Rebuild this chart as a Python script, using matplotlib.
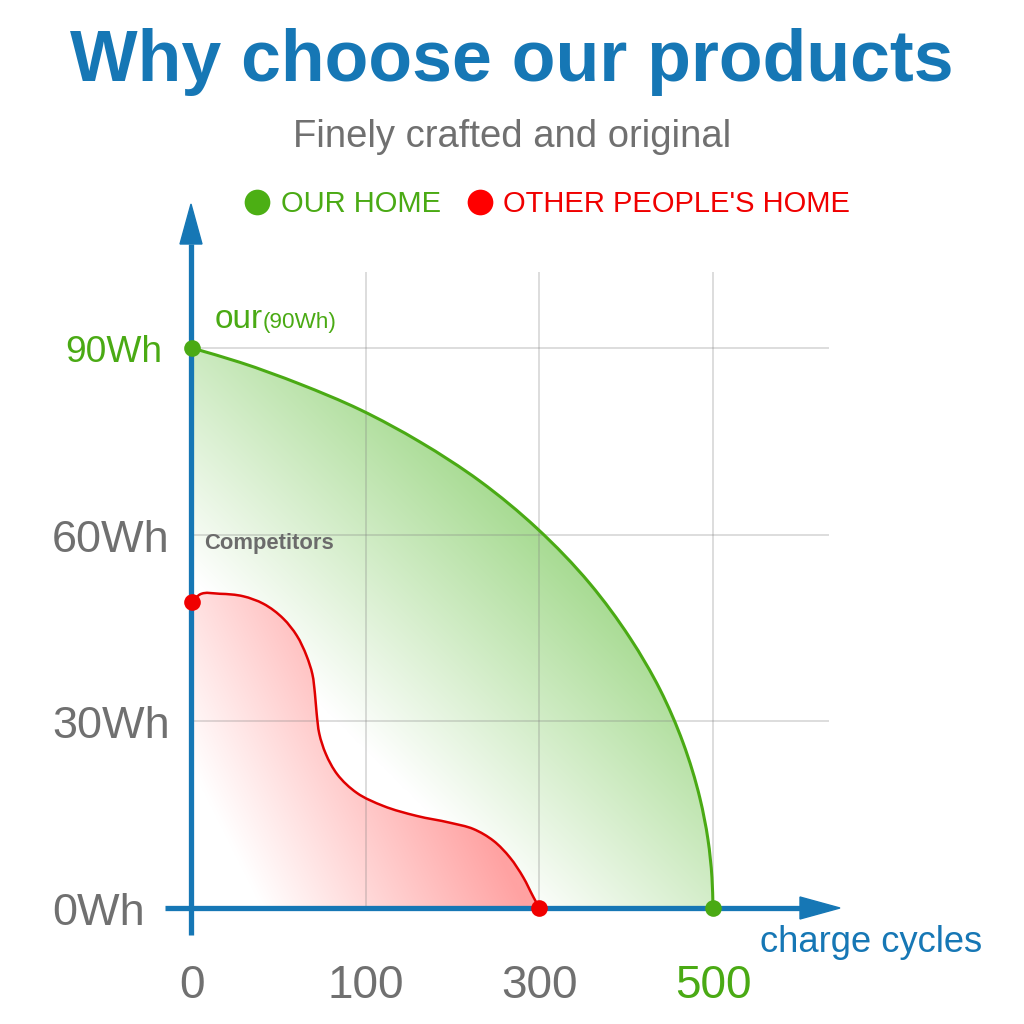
import numpy as np
import matplotlib
matplotlib.use('Agg')
import matplotlib.pyplot as plt
from matplotlib.path import Path
from matplotlib.patches import PathPatch, Polygon
from matplotlib.lines import Line2D
from matplotlib import font_manager

# ---------------- data ----------------
x_tick_pos = [0, 1, 2, 3]                 # evenly spaced category positions
x_tick_labels = ['0', '100', '300', '500']
y_tick_values = [0, 30, 60, 90]
y_tick_labels = ['0Wh', '30Wh', '60Wh', '90Wh']

# curves, x in tick-position units (0=0, 1=100, 2=300, 3=500 cycles), y in Wh
our_x = [0.0, 0.276, 0.622, 0.967, 1.313, 1.658, 1.987, 2.292, 2.522,
         2.695, 2.827, 2.925, 2.971, 2.994, 3.0]
our_y = [90.0, 87.7, 84.2, 80.1, 74.9, 68.6, 61.0, 52.1, 43.4,
         35.1, 26.6, 17.6, 11.0, 4.9, 0.0]

other_x = [0.0, 0.046, 0.161, 0.295, 0.411, 0.526, 0.603, 0.660, 0.693,
           0.708, 0.718, 0.733, 0.770, 0.836, 0.949, 1.102, 1.294, 1.486,
           1.620, 1.736, 1.831, 1.908, 1.965, 2.0]
other_y = [49.2, 50.4, 50.5, 50.1, 48.9, 46.5, 43.8, 40.5, 37.6,
           34.4, 31.2, 28.0, 24.8, 21.5, 18.5, 16.4, 14.8, 13.7,
           12.7, 10.8, 8.1, 4.9, 1.8, 0.0]

legend_labels = ['OUR HOME', "OTHER PEOPLE'S HOME"]

# ---------------- style ----------------
BLUE = '#1677b5'
GREEN = '#4aaa14'
RED = '#f00000'
GRAY = '#707070'
FONT = 'Liberation Sans'


def has_font(name):
    try:
        font_manager.findfont(name, fallback_to_default=False)
        return True
    except Exception:
        return False


NARROW = 'Liberation Sans Narrow' if has_font('Liberation Sans Narrow') else FONT
narrow_size = 25 if NARROW != FONT else 21

W = H = 1024
fig = plt.figure(figsize=(10.24, 10.24), dpi=100)
ax = fig.add_axes([0, 0, 1, 1])

# pixel layout: x position p -> 192 + p*173.67 ; y value v -> 908 - v*6.222 (from top)
SX, OX = 173.67, 192.0
SY, OY = 6.222, 908.0
xlim = (-OX / SX, (W - OX) / SX)
ylim = (-(H - OY) / SY, OY / SY)


def smooth_path(xs, ys):
    """Chord-length Catmull-Rom curve through the points, as Bezier segments."""
    scale = np.array([SX, SY])
    P = np.column_stack([xs, ys]).astype(float) * scale
    n = len(P)
    d = np.linalg.norm(np.diff(P, axis=0), axis=1)
    m = np.zeros_like(P)
    m[0] = (P[1] - P[0]) / d[0]
    m[-1] = (P[-1] - P[-2]) / d[-1]
    for i in range(1, n - 1):
        a = (P[i] - P[i - 1]) / d[i - 1]
        b = (P[i + 1] - P[i]) / d[i]
        m[i] = (a * d[i] + b * d[i - 1]) / (d[i - 1] + d[i])
    verts = [P[0]]
    codes = [Path.MOVETO]
    for i in range(n - 1):
        c1 = P[i] + m[i] * d[i] / 3.0
        c2 = P[i + 1] - m[i + 1] * d[i] / 3.0
        verts += [c1, c2, P[i + 1]]
        codes += [Path.CURVE4] * 3
    verts = [v / scale for v in verts]
    return verts, codes


def region_path(xs, ys):
    verts, codes = smooth_path(xs, ys)
    verts = list(verts) + [np.array([0.0, 0.0]), np.array([xs[0], ys[0]])]
    codes = list(codes) + [Path.LINETO, Path.CLOSEPOLY]
    return Path(np.array(verts), codes)


def gradient_image(x0, x1, y0, y1, s_lo, s_hi, rgb_hi, ky=1.0, n=500):
    xs = np.linspace(x0, x1, n)
    ys = np.linspace(y1, y0, n)
    X, Y = np.meshgrid(xs, ys)
    s = (OX + X * SX) + ky * ((H - OY) + Y * SY)   # diagonal pixel distance
    t = np.clip((s - s_lo) / (s_hi - s_lo), 0, 1)[..., None]
    white = np.array([1.0, 1.0, 1.0])
    hi = np.array(rgb_hi) / 255.0
    return white * (1 - t) + hi * t


# green gradient area
g_path = region_path(our_x, our_y)
g_patch = PathPatch(g_path, facecolor='none', edgecolor='none')
ax.add_patch(g_patch)
img = gradient_image(0, max(our_x), 0, max(our_y), 640, 1110, (150, 212, 125))
im = ax.imshow(img, extent=(0, max(our_x), 0, max(our_y)), aspect='auto',
               interpolation='bilinear', zorder=1)
im.set_clip_path(g_patch)

# red gradient area
r_path = region_path(other_x, other_y)
r_patch = PathPatch(r_path, facecolor='none', edgecolor='none')
ax.add_patch(r_patch)
img2 = gradient_image(0, max(other_x), 0, max(other_y), 320, 585, (255, 162, 162),
                      ky=0.5)
im2 = ax.imshow(img2, extent=(0, max(other_x), 0, max(other_y)), aspect='auto',
                interpolation='bilinear', zorder=1.5)
im2.set_clip_path(r_patch)

# grid lines
grid_right = 3.67
grid_top = 102.2
for v in y_tick_values[1:]:
    ax.plot([0, grid_right], [v, v], color='#808080', alpha=0.32, lw=1.2, zorder=2,
            solid_capstyle='butt')
for p in x_tick_pos[1:]:
    ax.plot([p, p], [0, grid_top], color='#808080', alpha=0.32, lw=1.2, zorder=2,
            solid_capstyle='butt')

# curves
v, c = smooth_path(our_x, our_y)
ax.add_patch(PathPatch(Path(np.array(v), c), facecolor='none', edgecolor=GREEN,
                       lw=2.2, zorder=3))
v, c = smooth_path(other_x, other_y)
ax.add_patch(PathPatch(Path(np.array(v), c), facecolor='none', edgecolor='#e00000',
                       lw=1.8, zorder=3))

# axes with arrows
ax_lw = 3.8
ax.plot([-27 / SX, (800 - OX) / SX], [0, 0], color=BLUE, lw=ax_lw, zorder=4,
        solid_capstyle='butt')
ax.add_patch(Polygon([[(800 - OX) / SX, 11 / SY], [(840 - OX) / SX, 0],
                      [(800 - OX) / SX, -11 / SY]], closed=True, color=BLUE, zorder=4))
yx = -1.0 / SX
ax.plot([yx, yx], [-27 / SY, (OY - 244) / SY], color=BLUE, lw=ax_lw, zorder=4,
        solid_capstyle='butt')
ax.add_patch(Polygon([[yx - 11 / SX, (OY - 244) / SY], [yx, (OY - 204) / SY],
                      [yx + 11 / SX, (OY - 244) / SY]], closed=True, color=BLUE, zorder=4))

# end dots
ms = 12
ax.plot([our_x[0], our_x[-1]], [our_y[0], our_y[-1]], 'o', color=GREEN, ms=ms,
        mec='none', zorder=5)
ax.plot([other_x[0], other_x[-1]], [other_y[0], other_y[-1]], 'o', color=RED, ms=ms,
        mec='none', zorder=5)

# tick labels (baseline placed so digits are centred on the tick)
xl_y = (OY - 998) / SY
for p, lab in zip(x_tick_pos, x_tick_labels):
    col = GREEN if lab == x_tick_labels[-1] else GRAY
    ax.text(p, xl_y, lab, ha='center', va='baseline', fontsize=33, color=col,
            family=FONT, zorder=6)
for val, lab in zip(y_tick_values, y_tick_labels):
    if val == max(y_tick_values):
        ax.text((65 - OX) / SX, val - 13.5 / SY, lab, ha='left', va='baseline',
                fontsize=26.7, color=GREEN, family=FONT, zorder=6)
    else:
        ax.text((52 - OX) / SX, val - 17 / SY, lab, ha='left', va='baseline',
                fontsize=32.5, color=GRAY, family=FONT, zorder=6)

ax.set_xlim(*xlim)
ax.set_ylim(*ylim)
ax.axis('off')


def fy(py):
    return 1 - py / H


# titles
fig.text(0.5, fy(81), 'Why choose our products', ha='center', va='baseline',
         fontsize=51.6, fontweight='bold', color=BLUE, family=FONT)
fig.text(0.5, fy(147), 'Finely crafted and original', ha='center', va='baseline',
         fontsize=27.5, color=GRAY, family=FONT)

# annotations
fig.text(215 / W, fy(328), 'our', ha='left', va='baseline', fontsize=24,
         color=GREEN, family=FONT)
fig.text(263 / W, fy(328), '(90Wh)', ha='left', va='baseline', fontsize=16.2,
         color=GREEN, family=FONT)
fig.text(204 / W, fy(549), 'Competitors', ha='left', va='baseline', fontsize=15.8,
         fontweight='bold', color='#6b6b6b', family=FONT)
fig.text(760 / W, fy(952), 'charge cycles', ha='left', va='baseline', fontsize=26.2,
         color=BLUE, family=FONT)

# legend
handles = [Line2D([], [], ls='none', marker='o', ms=18.5, color='#4caf14', mec='none'),
           Line2D([], [], ls='none', marker='o', ms=18.5, color='#ff0000', mec='none')]
leg = fig.legend(handles, legend_labels, loc='center',
                 bbox_to_anchor=(548 / W, fy(204)), ncol=2, frameon=False,
                 prop={'family': NARROW, 'size': narrow_size},
                 handlelength=0.8, handletextpad=0.4, columnspacing=0.95,
                 borderpad=0, borderaxespad=0)
for t, col in zip(leg.get_texts(), [GREEN, RED]):
    t.set_color(col)

fig.savefig('out.png', dpi=100)
